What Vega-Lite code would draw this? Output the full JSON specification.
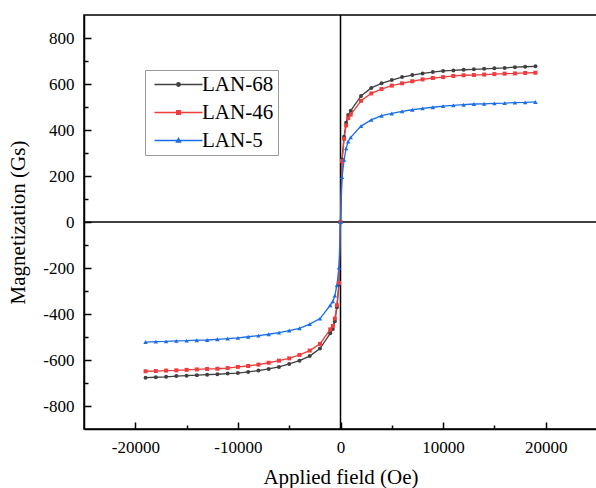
{
  "$schema": "https://vega.github.io/schema/vega-lite/v6.json",
  "width": 513,
  "height": 414,
  "autosize": {"type": "none"},
  "padding": {"left": 84, "top": 15, "right": 0, "bottom": 59},
  "config": {
    "view": {"stroke": "black", "strokeWidth": 1.5},
    "font": "Liberation Serif",
    "axis": {
      "grid": false,
      "domainColor": "black",
      "domainWidth": 1.5,
      "tickColor": "black",
      "tickWidth": 1.5,
      "labelColor": "black",
      "labelFont": "Liberation Serif",
      "labelFontSize": 17,
      "titleFont": "Liberation Serif",
      "titleFontSize": 21,
      "titleFontWeight": "normal",
      "titleColor": "black"
    },
    "legend": {"labelFont": "Liberation Serif"}
  },
  "data": {
    "values": [
      {"h": -19000, "LAN-68": -677, "LAN-46": -649, "LAN-5": -522},
      {"h": -18000, "LAN-68": -675, "LAN-46": -648, "LAN-5": -520},
      {"h": -17000, "LAN-68": -673, "LAN-46": -646, "LAN-5": -519},
      {"h": -16000, "LAN-68": -670, "LAN-46": -645, "LAN-5": -517},
      {"h": -15000, "LAN-68": -668, "LAN-46": -643, "LAN-5": -516},
      {"h": -14000, "LAN-68": -666, "LAN-46": -641, "LAN-5": -514},
      {"h": -13000, "LAN-68": -664, "LAN-46": -639, "LAN-5": -513},
      {"h": -12000, "LAN-68": -662, "LAN-46": -638, "LAN-5": -510},
      {"h": -11000, "LAN-68": -659, "LAN-46": -635, "LAN-5": -507},
      {"h": -10000, "LAN-68": -657, "LAN-46": -630, "LAN-5": -504},
      {"h": -9000, "LAN-68": -652, "LAN-46": -626, "LAN-5": -499},
      {"h": -8000, "LAN-68": -646, "LAN-46": -620, "LAN-5": -494},
      {"h": -7000, "LAN-68": -639, "LAN-46": -612, "LAN-5": -488},
      {"h": -6000, "LAN-68": -630, "LAN-46": -603, "LAN-5": -481},
      {"h": -5000, "LAN-68": -617, "LAN-46": -593, "LAN-5": -472},
      {"h": -4000, "LAN-68": -603, "LAN-46": -578, "LAN-5": -462},
      {"h": -3000, "LAN-68": -583, "LAN-46": -559, "LAN-5": -444},
      {"h": -2000, "LAN-68": -550, "LAN-46": -530, "LAN-5": -420},
      {"h": -1000, "LAN-68": -484, "LAN-46": -467, "LAN-5": -362},
      {"h": -750, "LAN-68": -465, "LAN-46": -452, "LAN-5": -345},
      {"h": -550, "LAN-68": -432, "LAN-46": -420, "LAN-5": -320},
      {"h": -350, "LAN-68": -371, "LAN-46": -362, "LAN-5": -275},
      {"h": -150, "LAN-68": -272, "LAN-46": -265, "LAN-5": -198},
      {"h": 0, "LAN-68": 0, "LAN-46": 0, "LAN-5": 0},
      {"h": 150, "LAN-68": 272, "LAN-46": 265, "LAN-5": 195},
      {"h": 350, "LAN-68": 371, "LAN-46": 362, "LAN-5": 270},
      {"h": 550, "LAN-68": 432, "LAN-46": 420, "LAN-5": 320},
      {"h": 750, "LAN-68": 465, "LAN-46": 452, "LAN-5": 350},
      {"h": 1000, "LAN-68": 484, "LAN-46": 467, "LAN-5": 368},
      {"h": 2000, "LAN-68": 548, "LAN-46": 527, "LAN-5": 417},
      {"h": 3000, "LAN-68": 583, "LAN-46": 559, "LAN-5": 444},
      {"h": 4000, "LAN-68": 603, "LAN-46": 578, "LAN-5": 462},
      {"h": 5000, "LAN-68": 617, "LAN-46": 593, "LAN-5": 472},
      {"h": 6000, "LAN-68": 630, "LAN-46": 603, "LAN-5": 481},
      {"h": 7000, "LAN-68": 639, "LAN-46": 612, "LAN-5": 488},
      {"h": 8000, "LAN-68": 646, "LAN-46": 620, "LAN-5": 494},
      {"h": 9000, "LAN-68": 652, "LAN-46": 626, "LAN-5": 499},
      {"h": 10000, "LAN-68": 657, "LAN-46": 630, "LAN-5": 504},
      {"h": 11000, "LAN-68": 659, "LAN-46": 635, "LAN-5": 507},
      {"h": 12000, "LAN-68": 662, "LAN-46": 638, "LAN-5": 510},
      {"h": 13000, "LAN-68": 664, "LAN-46": 639, "LAN-5": 513},
      {"h": 14000, "LAN-68": 666, "LAN-46": 641, "LAN-5": 514},
      {"h": 15000, "LAN-68": 668, "LAN-46": 643, "LAN-5": 516},
      {"h": 16000, "LAN-68": 670, "LAN-46": 645, "LAN-5": 517},
      {"h": 17000, "LAN-68": 673, "LAN-46": 646, "LAN-5": 519},
      {"h": 18000, "LAN-68": 675, "LAN-46": 648, "LAN-5": 520},
      {"h": 19000, "LAN-68": 677, "LAN-46": 649, "LAN-5": 522}
    ]
  },
  "transform": [{"fold": ["LAN-68", "LAN-46", "LAN-5"], "as": ["s", "m"]}],
  "resolve": {"axis": {"x": "independent", "y": "independent"}},
  "layer": [
    {
      "data": {"values": [{"z": 0}]},
      "mark": {"type": "rule", "color": "black", "strokeWidth": 1.5},
      "encoding": {
        "x": {
          "field": "z", "type": "quantitative",
          "scale": {"domain": [-25000, 25000], "nice": false, "zero": false},
          "axis": {"orient": "bottom", "values": [-15000, -5000, 5000, 15000], "labels": false, "domain": false, "title": null, "tickSize": -4}
        }
      }
    },
    {
      "data": {"values": [{"z": 0}]},
      "mark": {"type": "rule", "color": "black", "strokeWidth": 1.5},
      "encoding": {
        "y": {
          "field": "z", "type": "quantitative",
          "scale": {"domain": [-900, 900], "nice": false, "zero": false},
          "axis": {"orient": "left", "values": [-700, -500, -300, -100, 100, 300, 500, 700], "labels": false, "domain": false, "title": null, "tickSize": -4}
        }
      }
    },
    {
      "mark": {"type": "line", "strokeWidth": 1.3},
      "encoding": {
        "x": {
          "field": "h", "type": "quantitative",
          "scale": {"domain": [-25000, 25000], "nice": false, "zero": false},
          "axis": {"orient": "bottom", "values": [-20000, -10000, 0, 10000, 20000], "tickSize": -7, "labelPadding": 17, "labelFont": "Liberation Serif", "labelExpr": "'' + datum.value", "title": "Applied field (Oe)", "titlePadding": 11}
        },
        "y": {
          "field": "m", "type": "quantitative",
          "scale": {"domain": [-900, 900], "nice": false, "zero": false},
          "axis": {"orient": "left", "values": [-800, -600, -400, -200, 0, 200, 400, 600, 800], "tickSize": -7, "labelPadding": 17, "labelFont": "Liberation Serif", "labelExpr": "'' + datum.value", "title": "Magnetization (Gs)", "titlePadding": 14}
        },
        "color": {
          "field": "s", "type": "nominal",
          "scale": {"domain": ["LAN-68", "LAN-46", "LAN-5"], "range": ["#404040", "#f03c3c", "#1a6ee6"]},
          "legend": {
            "orient": "none", "legendX": 61, "legendY": 55, "title": null,
            "labelFontSize": 21, "labelFont": "Liberation Serif", "labelColor": "black",
            "symbolSize": 100, "symbolStrokeWidth": 1.3,
            "strokeColor": "#999999", "fillColor": "white",
            "padding": 4, "rowPadding": 6, "labelOffset": 32,
            "encode": {
              "symbols": {
                "update": {
                  "shape": {"signal": "datum.value === 'LAN-68' ? 'M-1,0H8.6M4.16,0A0.36,0.36,0,1,1,3.44,0A0.36,0.36,0,1,1,4.16,0Z' : datum.value === 'LAN-46' ? 'M-1,0H8.6M3.44,-0.36H4.16V0.36H3.44Z' : 'M-1,0H8.6M3.8,-0.45L4.22,0.3H3.38Z'"},
                  "fill": {"scale": "color", "field": "value"},
                  "stroke": {"scale": "color", "field": "value"},
                  "opacity": {"value": 1}
                }
              }
            }
          }
        }
      }
    },
    {
      "transform": [{"filter": "datum.s === 'LAN-68'"}],
      "mark": {"type": "point", "filled": true, "size": 16, "opacity": 1, "shape": "circle", "color": "#404040"},
      "encoding": {
        "x": {"field": "h", "type": "quantitative", "axis": null},
        "y": {"field": "m", "type": "quantitative", "axis": null}
      }
    },
    {
      "transform": [{"filter": "datum.s === 'LAN-46'"}],
      "mark": {"type": "point", "filled": true, "size": 16, "opacity": 1, "shape": "square", "color": "#f03c3c"},
      "encoding": {
        "x": {"field": "h", "type": "quantitative", "axis": null},
        "y": {"field": "m", "type": "quantitative", "axis": null}
      }
    },
    {
      "transform": [{"filter": "datum.s === 'LAN-5'"}],
      "mark": {"type": "point", "filled": true, "size": 20, "opacity": 1, "shape": "triangle-up", "color": "#1a6ee6"},
      "encoding": {
        "x": {"field": "h", "type": "quantitative", "axis": null},
        "y": {"field": "m", "type": "quantitative", "axis": null}
      }
    }
  ]
}
